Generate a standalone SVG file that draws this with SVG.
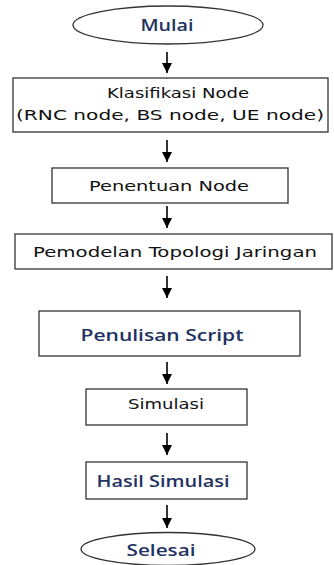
<svg xmlns="http://www.w3.org/2000/svg" width="334" height="565" viewBox="0 0 334 565">
<defs>
<marker id="ah" viewBox="0 0 10 10" refX="10" refY="5" markerWidth="10" markerHeight="10" markerUnits="userSpaceOnUse" orient="auto">
<path d="M0,0 L10,5 L0,10 z" fill="#000"/>
</marker>
<style>
.box{fill:#fff;stroke:#333;stroke-width:1.3}
.t{font-family:"DejaVu Sans",Verdana,sans-serif;font-size:14px;fill:#111;text-anchor:middle}
.b{font-family:"Open Sans","Liberation Sans",sans-serif;font-size:16px;font-weight:600;fill:#1f3462;text-anchor:middle}
.c{stroke:#000;stroke-width:1.6;fill:none}
</style>
</defs>
<rect width="334" height="565" fill="#fff"/>
<g id="connectors">
<line class="c" x1="167" y1="52" x2="167" y2="73" marker-end="url(#ah)"/>
<line class="c" x1="167" y1="140" x2="167" y2="162" marker-end="url(#ah)"/>
<line class="c" x1="167" y1="206" x2="167" y2="228" marker-end="url(#ah)"/>
<line class="c" x1="167" y1="276" x2="167" y2="298" marker-end="url(#ah)"/>
<line class="c" x1="167" y1="362" x2="167" y2="384" marker-end="url(#ah)"/>
<line class="c" x1="167" y1="433" x2="167" y2="455" marker-end="url(#ah)"/>
<line class="c" x1="167" y1="505" x2="167" y2="528" marker-end="url(#ah)"/>
</g>
<g id="mulai">
<ellipse class="box" cx="168" cy="25" rx="95" ry="19"/>
<text class="b" x="167" y="31" textLength="53" lengthAdjust="spacingAndGlyphs">Mulai</text>
</g>
<g id="klasifikasi">
<rect class="box" x="13" y="78" width="315" height="54"/>
<text class="t" x="178" y="98" textLength="142" lengthAdjust="spacingAndGlyphs">Klasifikasi Node</text>
<text class="t" x="170" y="120" textLength="308" lengthAdjust="spacingAndGlyphs">(RNC node, BS node, UE node)</text>
</g>
<g id="penentuan">
<rect class="box" x="52" y="168" width="236" height="35"/>
<text class="t" x="169" y="191" textLength="160" lengthAdjust="spacingAndGlyphs">Penentuan Node</text>
</g>
<g id="pemodelan">
<rect class="box" x="15" y="234" width="317" height="35"/>
<text class="t" x="175" y="257" textLength="284" lengthAdjust="spacingAndGlyphs">Pemodelan Topologi Jaringan</text>
</g>
<g id="penulisan">
<rect class="box" x="39" y="311" width="261" height="45"/>
<text class="b" x="162" y="341" textLength="163" lengthAdjust="spacingAndGlyphs">Penulisan Script</text>
</g>
<g id="simulasi">
<rect class="box" x="86" y="389" width="161" height="36"/>
<text class="t" x="166" y="409" textLength="76" lengthAdjust="spacingAndGlyphs">Simulasi</text>
</g>
<g id="hasil">
<rect class="box" x="86" y="462" width="161" height="37"/>
<text class="b" x="163" y="487" textLength="133" lengthAdjust="spacingAndGlyphs">Hasil Simulasi</text>
</g>
<g id="selesai">
<ellipse class="box" cx="168" cy="549" rx="87" ry="16.5"/>
<text class="b" x="161" y="556" textLength="69" lengthAdjust="spacingAndGlyphs">Selesai</text>
</g>
</svg>
